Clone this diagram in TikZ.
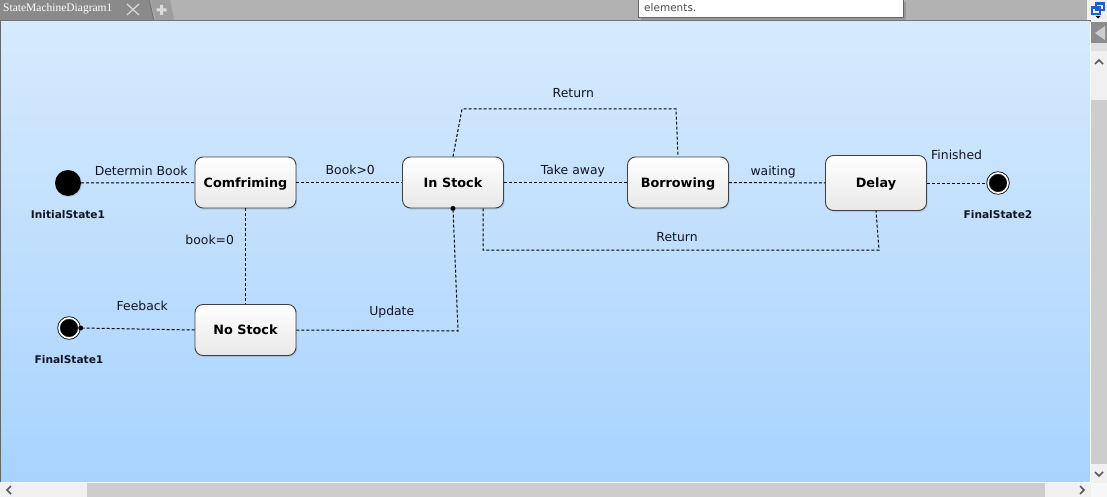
\documentclass[tikz,border=0pt]{standalone}
\usepackage{fontspec}
\setmainfont{DejaVu Sans}
\newfontfamily\tabfont{Liberation Serif}
\usetikzlibrary{positioning,shadows}
\definecolor{canvastop}{RGB}{214,234,253}
\definecolor{canvasbot}{RGB}{168,211,254}
\definecolor{bargray}{RGB}{178,178,178}
\definecolor{tabgray}{RGB}{138,138,138}
\definecolor{trackgray}{RGB}{205,205,205}
\definecolor{btngray}{RGB}{240,240,240}
\definecolor{iconblue}{RGB}{30,95,200}
\definecolor{inkdark}{RGB}{20,20,35}

\begin{document}
\begin{tikzpicture}[x=1pt,y=-1pt]
  \tikzstyle{statebox} = [draw=black!75, line width=0.9pt, rounded corners=8pt,
  top color=white, bottom color=black!9, minimum width=101pt,
  minimum height=51pt, inner sep=0pt, text height=9.3pt, text depth=0pt,
  font=\fontsize{12.8}{15}\selectfont\bfseries,
  drop shadow={shadow xshift=1.2pt, shadow yshift=-1.5pt, opacity=0.25}]
  \tikzstyle{initstate} = [circle, fill=black, minimum size=26pt, inner sep=0pt,
  outer sep=0pt, drop shadow={shadow xshift=1pt, shadow yshift=-1pt, opacity=0.25}]
  \tikzstyle{finalstate} = [circle, fill=black, draw=black!90, line width=0.9pt,
  double=white, double distance=1.6pt, minimum size=20pt, inner sep=0pt,
  outer sep=1.7pt, drop shadow={shadow xshift=1pt, shadow yshift=-1pt, opacity=0.3}]
  \tikzstyle{joint} = [circle, fill=black, minimum size=5pt, inner sep=0pt]
  \tikzstyle{transline} = [draw=black, line width=1pt, dash pattern=on 3pt off 2pt]
  \tikzstyle{lbl} = [font=\fontsize{12.4}{14}\selectfont, text=inkdark,
  inner sep=1pt, text height=9pt, text depth=2pt]
  \tikzstyle{statelbl} = [font=\fontsize{10.6}{12}\selectfont\bfseries, text=inkdark,
  inner sep=1pt, text height=8pt, text depth=2pt]
  \tikzstyle{chevron} = [draw=black!65, line width=1.6pt]
  \useasboundingbox (0,0) rectangle (1107,497);

  % WINDOW
  \fill[bargray] (0,0) rectangle (1107,22);
  \fill[black!38] (150,0) -- (170,0) -- (174,20) -- (156,20) -- cycle;
  \fill[tabgray] (0,0) -- (149,0) -- (154,20) -- (0,20) -- cycle;
  \draw[black!55, line width=1pt] (149,0) -- (154,20);
  \fill[white!55!bargray] (160,5) rectangle (163,15) (156.5,8.5) rectangle (166.5,11.5);
  \node[anchor=west, text=white, inner sep=0pt, font=\tabfont\fontsize{11.5}{13}\selectfont]
  (tabname) at (3,9) {StateMachineDiagram1};
  \draw[white!85!black, line width=1.2pt] (127,4) -- (139,15) (139,4) -- (127,15);
  \fill[black!40] (641,2) rectangle (906,20);
  \filldraw[fill=white, draw=black!60] (638,-1) rectangle (903,17);
  \node[anchor=west, inner sep=0pt, text=black!70, font=\fontsize{10.5}{12}\selectfont]
  (tiptext) at (644,7.5) {elements.};
  \fill[btngray] (1087,0) rectangle (1107,22);
  \draw[iconblue, line width=1.2pt] (1096,3) rectangle (1104,10) (1092,7) rectangle (1100,14);
  \fill[iconblue] (1096,2.5) rectangle (1104,5) (1092,6.5) rectangle (1100,9);
  \fill[black] (1095.5,16) -- (1100.5,16) -- (1098,18.5) -- cycle;
  \fill[black!55] (0,20.5) rectangle (1091,22);

  % CANVAS
  \shade[top color=canvastop, bottom color=canvasbot] (1,22) rectangle (1090,482);
  \fill[black!60] (0,22) rectangle (1,483);
  \fill[white] (1090,22) rectangle (1091,483) (0,482) rectangle (1091,483);
  \fill[black!45] (1091,22) rectangle (1107,43);
  \fill[black!20] (1095,33) -- (1105,26) -- (1105,40) -- cycle;
  \fill[black!12] (1091,43) rectangle (1107,51);
  \fill[btngray] (1091,51) rectangle (1107,100);
  \draw[chevron] (1095,64) -- (1099,60) -- (1103,64);
  \fill[trackgray] (1091,100) rectangle (1107,464);
  \fill[btngray] (1091,464) rectangle (1107,483);
  \draw[chevron] (1095,472) -- (1099,476) -- (1103,472);
  \fill[btngray] (0,483) rectangle (87,497) (1045,483) rectangle (1091,497);
  \fill[trackgray] (87,483) rectangle (1045,497);
  \fill[white!97!black] (1091,483) rectangle (1107,497);
  \draw[chevron] (11,486) -- (7,490) -- (11,494);
  \draw[chevron] (1080,486) -- (1084,490) -- (1080,494);

  % STATES
  \node[statebox] (comf) at (245.5,182.5) {Comfriming};
  \node[statebox] (instock) at (453,182.5) {In Stock};
  \node[statebox] (borrow) at (678,182.5) {Borrowing};
  \node[statebox, minimum height=55pt] (delay) at (876,183) {Delay};
  \node[statebox] (nostock) at (245.5,330) {No Stock};
  \node[initstate] (init) at (68,183) {};
  \node[finalstate] (final1) at (69,328) {};
  \node[finalstate] (final2) at (998,183) {};
  \node[statelbl, below=12.8pt of init] (initlbl) {InitialState1};
  \node[statelbl, below=14.2pt of final1] (final1lbl) {FinalState1};
  \node[statelbl, below=14.2pt of final2] (final2lbl) {FinalState2};
  \node[joint] (fbdot) at (final1.east) {};
  \node[joint] (updot) at (instock.south) {};
  \coordinate (updcorner) at (458,331);
  \coordinate (rettl) at (462,109);
  \coordinate (rettr) at (676,109);
  \coordinate (retbl) at (483,250);
  \coordinate (retbr) at (879,250);

  % TRANSITIONS
  \draw[transline] (init) -- node[lbl, pos=0.53, above=4pt] (lbdet) {Determin Book} (comf);
  \draw[transline] (comf) -- node[lbl, pos=0.51, above=4pt] (lbbook) {Book>0} (instock);
  \draw[transline] (instock) -- node[lbl, pos=0.56, above=4pt] (lbtake) {Take away} (borrow);
  \draw[transline] (borrow) -- node[lbl, pos=0.46, above=4pt] (lbwait) {waiting} (delay);
  \draw[transline] (delay) -- node[lbl, pos=0.5, above=19.5pt] (lbfin) {Finished} (final2);
  \draw[transline] (comf) -- node[lbl, pos=0.34, left=10pt] (lbzero) {book=0} (nostock);
  \draw[transline] (nostock.west) -- node[lbl, pos=0.47, above=15.5pt] (lbfeed) {Feeback} (fbdot);
  \draw[transline] (nostock.east) -- node[lbl, pos=0.59, above=12pt] (lbupd) {Update}
  (updcorner) -- (updot);
  \draw[transline] (instock.north) -- (rettl) -- node[lbl, pos=0.52, above=7.5pt] (lbret1) {Return}
  (rettr) -- (borrow.north);
  \draw[transline] ([xshift=30pt]instock.south) -- (retbl) -- node[lbl, pos=0.49, above=5.5pt]
  (lbret2) {Return} (retbr) -- (delay.south);
\end{tikzpicture}
\end{document}
